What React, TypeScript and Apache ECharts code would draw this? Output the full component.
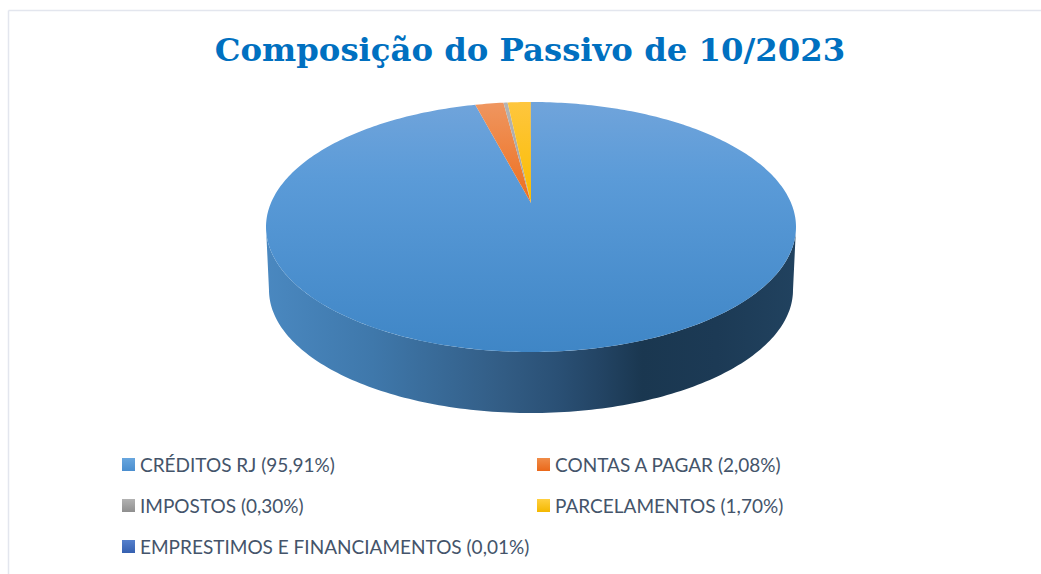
import React, { useEffect, useRef } from "react";
import * as echarts from "echarts";

const titleText = "Composição do Passivo de 10/2023";
const sliceNames = ["CRÉDITOS RJ (95,91%)", "CONTAS A PAGAR (2,08%)", "IMPOSTOS (0,30%)", "PARCELAMENTOS (1,70%)", "EMPRESTIMOS E FINANCIAMENTOS (0,01%)"];
const sliceValues = [95.91, 2.08, 0.3, 1.7, 0.01];
const surfaceColors = [["#70a4db", "#3f86c6"], ["#ef9660", "#ee6f1e"], ["#b4b4b4", "#a2a2a2"], ["#fec63e", "#fabd00"], ["#5580cc", "#3560b0"]];
const legendColors = [["#68a6de", "#4a8ecf"], ["#f08c48", "#ea681a"], ["#b2b2b2", "#8f8f8f"], ["#ffd040", "#f4b800"], ["#5580cc", "#3560b0"]];
const wallStops: [number, string][] = [[0, "#4a88c0"], [0.2, "#3f78ab"], [0.45, "#325c84"], [0.55, "#2a5075"], [0.63, "#234464"], [0.71, "#1a3750"], [0.85, "#1c3a55"], [1, "#21425f"]];

const CX = 531, CY = 227, RX = 265, RY = 125, APEX_V = (203 - 227) / 125;
const BCY = 290, BRX = 262, BRY = 123;
const total = sliceValues.reduce((a, b) => a + b, 0);

// perspective map of the unit disc so that the pie's centre falls on the apex
function disc(deg: number) {
  const t = (deg * Math.PI) / 180;
  const u = Math.sin(t), v = -Math.cos(t);
  const d = 1 + v * APEX_V;
  return [(u * Math.sqrt(1 - APEX_V * APEX_V)) / d, (v + APEX_V) / d];
}
const topPt = (deg: number) => { const [u, v] = disc(deg); return [CX + RX * u, CY + RY * v]; };
const botPt = (deg: number) => { const [u, v] = disc(deg); return [CX + BRX * u, BCY + BRY * v]; };
const FRONT_A = (Math.acos(APEX_V) * 180) / Math.PI;
const FRONT_B = 360 - FRONT_A;

function vGrad(c: string[]) {
  return new echarts.graphic.LinearGradient(0, 0, 0, 1, [{ offset: 0, color: c[0] }, { offset: 1, color: c[1] }]);
}

function range(a: number, b: number) {
  const out: number[] = [];
  const n = Math.max(1, Math.ceil(b - a));
  for (let i = 0; i <= n; i++) out.push(a + ((b - a) * i) / n);
  return out;
}

function renderSlice(index: number) {
  return (_p: any, api: any) => {
    const prev = sliceValues.slice(0, index).reduce((a, b) => a + b, 0);
    const start = (prev / total) * 360;
    const end = ((prev + api.value(0)) / total) * 360;
    const children: any[] = [];
    const lo = Math.max(start, FRONT_A), hi = Math.min(end, FRONT_B);
    if (lo < hi) {
      const angles = range(lo, hi);
      const pts = [...angles.map(topPt), ...angles.slice().reverse().map(botPt)];
      children.push({
        type: "polygon",
        shape: { points: pts },
        style: { fill: new echarts.graphic.LinearGradient(0, 0, 1, 0, wallStops.map(([offset, color]) => ({ offset, color }))) },
      });
    }
    const pts = [[CX, CY + RY * APEX_V], ...range(start, end).map(topPt)];
    children.push({
      type: "polygon",
      shape: { points: pts },
      style: {
        fill: new echarts.graphic.LinearGradient(0, 102, 0, 352, [
          { offset: 0, color: surfaceColors[index][0] },
          { offset: index === 0 ? 0.3 : 0.4, color: index === 0 ? "#5b9bd8" : surfaceColors[index][1] },
          { offset: 1, color: surfaceColors[index][1] },
        ], true),
      },
    });
    return { type: "group", children };
  };
}

const legendPos = [[122, 455], [537, 455], [122, 496], [537, 496], [122, 537]];

export default function App() {
  const ref = useRef<HTMLDivElement>(null);
  useEffect(() => {
    const chart = echarts.init(ref.current!, undefined, { renderer: "svg" });
    chart.setOption({
      animation: false,
      backgroundColor: "#ffffff",
      title: {
        text: titleText,
        left: 525,
        top: 29,
        textAlign: "center",
        textStyle: { fontFamily: "DejaVu Serif", fontWeight: "bold", fontSize: 32.3, color: "#0070c0" },
      },
      legend: sliceNames.map((name, i) => ({
        data: [name],
        left: legendPos[i][0],
        top: legendPos[i][1],
        padding: 0,
        icon: "rect",
        itemWidth: 13,
        itemHeight: 13,
        selectedMode: false,
        textStyle: { fontFamily: "Lato", fontSize: 19, color: "#44546a" },
      })),
      graphic: [
        { type: "line", shape: { x1: 8.5, y1: 10.5, x2: 1041, y2: 10.5 }, style: { stroke: "#e3e6ee", lineWidth: 1.5 } },
        { type: "line", shape: { x1: 8.5, y1: 10.5, x2: 8.5, y2: 574 }, style: { stroke: "#e3e6ee", lineWidth: 1.5 } },
      ],
      series: sliceNames.map((name, i) => ({
        type: "custom",
        name,
        coordinateSystem: "none",
        itemStyle: { color: vGrad(legendColors[i]) },
        data: [[sliceValues[i]]],
        renderItem: renderSlice(i),
      })),
    });
    return () => chart.dispose();
  }, []);
  return <div ref={ref} style={{ position: "fixed", left: 0, top: 0, width: 1041, height: 574 }} />;
}
